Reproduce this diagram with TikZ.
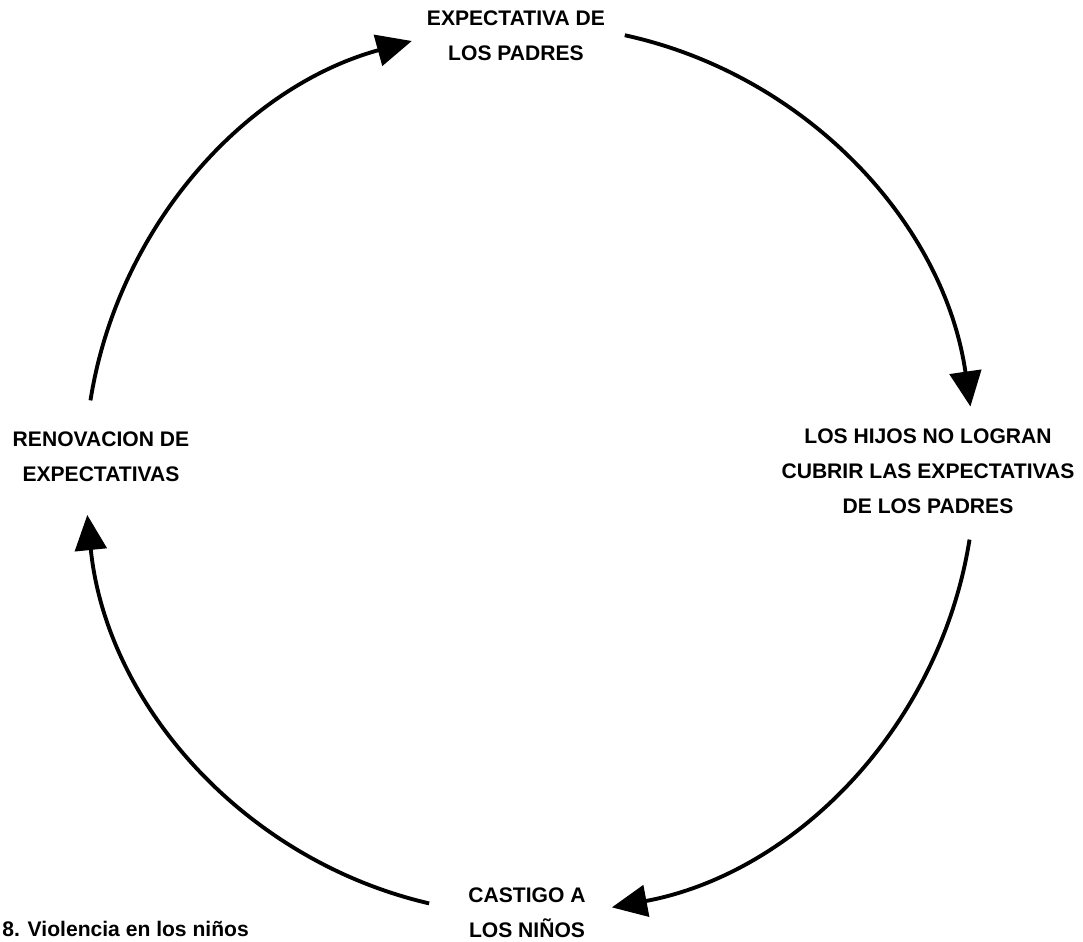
\documentclass[tikz,border=0pt]{standalone}
\usepackage{fontspec}
\setmainfont{Liberation Sans}
\usetikzlibrary{arrows.meta}
\begin{document}
\begin{tikzpicture}[
  x=0.02cm, y=0.02cm,
  stage/.style={
    align=center, inner sep=0pt,
    font=\bfseries\fontsize{12}{19.9}\selectfont,
  },
  cyc/.style={
    line width=2.2pt,
    -{Triangle[length=20pt, width=18pt]},
  },
]

\def\rad{445}

% ── frame (reference proportions) ───────────────────────
\useasboundingbox (-530,-472) rectangle (553,470);

% ── stages of the cycle ─────────────────────────────────
\node[stage] (expect) at (-14, 434)  {EXPECTATIVA DE\\LOS PADRES};
\node[stage] (fail)   at (398, -1)   {LOS HIJOS NO LOGRAN\\CUBRIR LAS EXPECTATIVAS\\DE LOS PADRES};
\node[stage] (punish) at (-3, -443)  {CASTIGO A\\LOS NIÑOS};
\node[stage] (renew)  at (-429, 13)  {RENOVACION DE\\EXPECTATIVAS};

% ── arcs between stages (clockwise) ─────────────────────
\foreach \i/\a/\b in {1/77.7/8.2, 2/-9/-79.4, 3/256.9/185.8, 4/171/105.4}{
  \coordinate (s\i) at (\a:\rad);
  \draw[cyc] (s\i) arc[start angle=\a, end angle=\b, radius=\rad];
}

% ── caption ─────────────────────────────────────────────
\node[font=\bfseries\fontsize{12}{14}\selectfont, anchor=base west, inner sep=0pt]
  (caption) at (-528, -467) {8. Violencia en los niños};

\end{tikzpicture}
\end{document}
